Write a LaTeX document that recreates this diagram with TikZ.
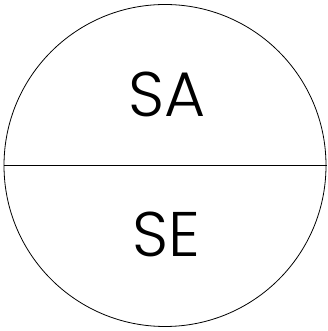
\documentclass[tikz,border=0pt]{standalone}
\usepackage{fontspec}
\setmainfont{Poppins}[UprightFont=* Light]
\usetikzlibrary{positioning}
\begin{document}
\begin{tikzpicture}[x=1pt, y=1pt,
    etiquette/.style={font=\fontsize{63}{63}\selectfont, inner sep=0pt}]
  \useasboundingbox (0,0) rectangle (327,331);
  % cercle
  \node[draw, circle, line width=0.8pt, minimum size=322pt, inner sep=0pt] (cercle) at (165,165.5) {};
  % séparation
  \coordinate (bord) at (327,165.5);
  \draw[line width=0.8pt] (cercle.west) -- (bord);
  % textes
  \node[etiquette] (haut) at (167.5,236.5) {SA};
  \node[etiquette] (bas) at (166.5,96.5) {SE};
\end{tikzpicture}
\end{document}
